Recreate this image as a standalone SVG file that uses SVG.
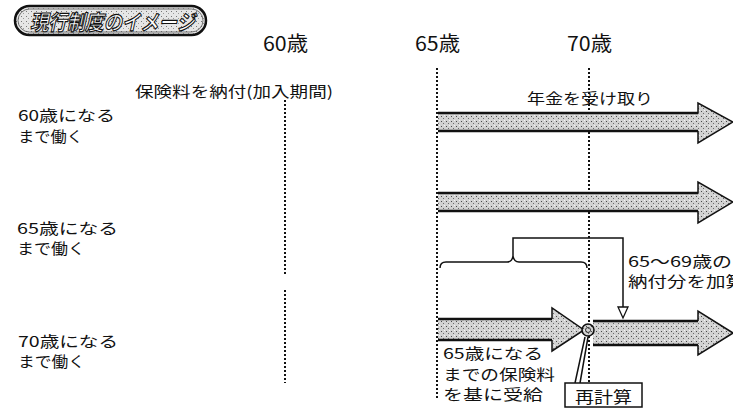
<svg xmlns="http://www.w3.org/2000/svg" width="733" height="410" viewBox="0 0 733 410">
<defs>
<pattern id="stip" width="5" height="5" patternUnits="userSpaceOnUse">
<rect width="5" height="5" fill="#d2d2d2"/>
<rect x="1" y="1" width="1" height="1" fill="#4a4a4a"/>
<rect x="3" y="3" width="1" height="1" fill="#6a6a6a"/>
<rect x="4" y="0" width="1" height="1" fill="#f4f4f4"/>
</pattern>
<pattern id="stipL" width="5" height="5" patternUnits="userSpaceOnUse">
<rect width="5" height="5" fill="#e6e6e6"/>
<rect x="1" y="1" width="1" height="1" fill="#777"/>
<rect x="3" y="3" width="1" height="1" fill="#999"/>
</pattern>
</defs>
<style>
text{font-family:"Noto Sans CJK JP","Noto Sans CJK SC",sans-serif;fill:#111;}
.t16{font-size:16px;}
.t15{font-size:15px;}
.yr{font-size:20px;}
.dot{stroke:#111;stroke-width:2;stroke-dasharray:2 2;fill:none;}
.band{fill:url(#stip);stroke:none;}
.edge{stroke:#111;stroke-width:2.5;fill:none;}
.head{stroke:#111;stroke-width:1.5;fill:none;stroke-linejoin:miter;}
.thin{stroke:#111;stroke-width:1.5;fill:none;}
</style>
<rect width="733" height="410" fill="#ffffff"/>

<g id="title">
<rect x="15" y="6" width="191" height="29" rx="14.5" fill="url(#stipL)" stroke="#111" stroke-width="2.5"/>
<rect x="18" y="9" width="185" height="23" rx="11.5" fill="none" stroke="#555" stroke-width="0.8"/>
<text x="30" y="30" font-size="21" font-weight="bold" font-style="italic" textLength="165" lengthAdjust="spacingAndGlyphs" style="fill:#fff;stroke:#111;stroke-width:1.1px;">現行制度のイメージ</text>
</g>

<g id="axis">
<text class="yr" x="263" y="51" textLength="45" lengthAdjust="spacingAndGlyphs">60歳</text>
<text class="yr" x="415" y="51" textLength="45" lengthAdjust="spacingAndGlyphs">65歳</text>
<text class="yr" x="567" y="51" textLength="45" lengthAdjust="spacingAndGlyphs">70歳</text>
<path class="dot" d="M285,100 V275 M285,290 V383"/>
<path class="dot" d="M437,68 V400"/>
<path class="dot" d="M589,68 V383"/>
<text class="t15" x="135" y="97" textLength="198" lengthAdjust="spacingAndGlyphs">保険料を納付(加入期間)</text>
</g>

<g id="row1">
<text class="t15" x="18" y="121" textLength="97" lengthAdjust="spacingAndGlyphs">60歳になる</text>
<text class="t15" x="18" y="142" textLength="65" lengthAdjust="spacingAndGlyphs">まで働く</text>
<text class="t15" x="527" y="104" textLength="126" lengthAdjust="spacingAndGlyphs">年金を受け取り</text>
</g>

<g id="row2">
<text class="t15" x="17" y="234" textLength="101" lengthAdjust="spacingAndGlyphs">65歳になる</text>
<text class="t15" x="17" y="254" textLength="68" lengthAdjust="spacingAndGlyphs">まで働く</text>
</g>

<g id="row3">
<text class="t15" x="18" y="347" textLength="100" lengthAdjust="spacingAndGlyphs">70歳になる</text>
<text class="t15" x="18" y="367" textLength="67" lengthAdjust="spacingAndGlyphs">まで働く</text>
<text class="t15" x="443" y="359" textLength="100" lengthAdjust="spacingAndGlyphs">65歳になる</text>
<text class="t15" x="443" y="380" textLength="112" lengthAdjust="spacingAndGlyphs">までの保険料</text>
<text class="t15" x="443" y="400" textLength="100" lengthAdjust="spacingAndGlyphs">を基に受給</text>
<text class="t15" x="628" y="267" textLength="104" lengthAdjust="spacingAndGlyphs">65～69歳の</text>
<text class="t15" x="628" y="287" textLength="117" lengthAdjust="spacingAndGlyphs">納付分を加算</text>
</g>

<g id="connectors">
<!-- arrow 1 -->
<polygon class="band" points="438,113 698,113 698,103 733,122 698,143 698,131 438,131"/>
<path class="edge" d="M438,113 H698 M438,131 H698"/>
<path class="head" d="M698,113 V103 L733,122 L698,143 V131"/>
<!-- arrow 2 -->
<polygon class="band" points="438,193 698,193 698,182 733,202 698,223 698,211 438,211"/>
<path class="edge" d="M438,193 H698 M438,211 H698"/>
<path class="head" d="M698,193 V182 L733,202 L698,223 V211"/>
<!-- arrow 3 left -->
<polygon class="band" points="438,319 552,319 552,308 584,330 552,351 552,340 438,340"/>
<path class="edge" d="M438,319 H552 M438,340 H552"/>
<path class="head" d="M552,319 V308 L584,330 L552,351 V340"/>
<!-- arrow 3 right -->
<polygon class="band" points="593,321 698,321 698,311 733,333 698,355 698,345 593,345"/>
<path class="edge" d="M593,321 H698 M593,345 H698"/>
<path class="head" d="M698,321 V311 L733,333 L698,355 V345"/>
<!-- brace and addition arrow -->
<path class="thin" d="M440,268 Q440,262 446,262 L507,262 Q512,262 513,256 Q514,262 519,262 L581,262 Q587,262 587,268"/>
<path class="thin" d="M513,256 V238 H623 V307"/>
<polygon points="618,307 628,307 623,318" fill="#fff" stroke="#111" stroke-width="1.3"/>
<!-- recalculation callout -->
<path class="thin" d="M585,337 L575,383 M588,337 L580,383"/>
</g>

<g id="recalc-point">
<circle cx="588" cy="330" r="6" fill="url(#stip)" stroke="#111" stroke-width="1.6"/>
<circle cx="588" cy="330" r="2.5" fill="none" stroke="#333" stroke-width="1"/>
</g>

<g id="recalc-box">
<rect x="565" y="383" width="77" height="24" fill="#fff" stroke="#111" stroke-width="1.5"/>
<text class="t16" x="575" y="403" textLength="57" lengthAdjust="spacingAndGlyphs">再計算</text>
</g>
</svg>
